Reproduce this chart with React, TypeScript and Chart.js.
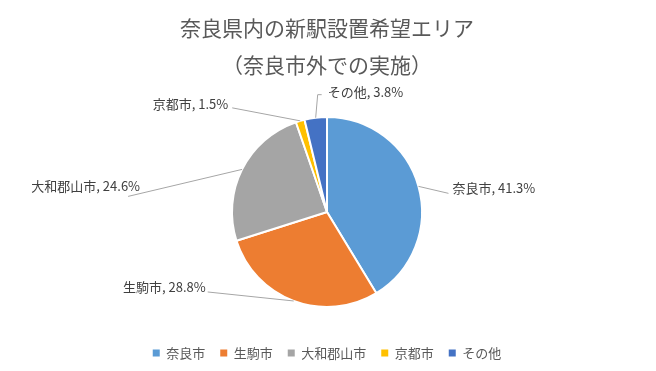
import React, { useEffect, useRef } from "react";
import { Chart, registerables } from "chart.js";

Chart.register(...registerables);

const categories = ["奈良市", "生駒市", "大和郡山市", "京都市", "その他"];
const shares = [41.3, 28.8, 24.6, 1.5, 3.8];
const colors = ["#5B9BD5", "#ED7D31", "#A5A5A5", "#FFC000", "#4472C4"];
const titleLines = ["奈良県内の新駅設置希望エリア", "（奈良市外での実施）"];

// leader line / label placement relative to each slice's outer mid-point
const labelLayout = [
  { line: [[30, 7]], text: [34, 2], align: "left" },
  { line: [[-86, -9]], text: [-88, -14], align: "right" },
  { line: [[-114, 27]], text: [-102, 17], align: "right" },
  { line: [[-68, -13]], text: [-72, -17], align: "right" },
  { line: [[2, -23], [6, -23]], text: [12, -26], align: "left" },
];

const FONT = '"Noto Sans CJK JP", "Noto Sans", sans-serif';

const labelPlugin = {
  id: "pieLabels",
  afterDatasetsDraw(chart: any) {
    const ctx = chart.ctx;
    const meta = chart.getDatasetMeta(0);
    ctx.save();
    meta.data.forEach((arc: any, i: number) => {
      const { x, y, startAngle, endAngle, outerRadius } = arc.getProps(
        ["x", "y", "startAngle", "endAngle", "outerRadius"],
        true
      );
      const mid = (startAngle + endAngle) / 2;
      const ax = x + Math.cos(mid) * outerRadius;
      const ay = y + Math.sin(mid) * outerRadius;
      const lay = labelLayout[i];
      ctx.strokeStyle = "#A6A6A6";
      ctx.lineWidth = 1;
      ctx.beginPath();
      ctx.moveTo(ax, ay);
      lay.line.forEach((p: number[]) => ctx.lineTo(ax + p[0], ay + p[1]));
      ctx.stroke();
      ctx.fillStyle = "#404040";
      ctx.font = `13px ${FONT}`;
      ctx.textAlign = lay.align;
      ctx.textBaseline = "middle";
      ctx.fillText(
        `${categories[i]}, ${shares[i].toFixed(1)}%`,
        ax + lay.text[0],
        ay + lay.text[1]
      );
    });
    ctx.restore();
  },
};

export default function App() {
  const ref = useRef<HTMLCanvasElement>(null);
  useEffect(() => {
    document.body.style.margin = "0";
    const baseGen = (Chart as any).overrides.doughnut.plugins.legend.labels
      .generateLabels;
    const chart = new Chart(ref.current!, {
      type: "pie",
      data: {
        labels: categories,
        datasets: [
          {
            data: shares,
            backgroundColor: colors,
            borderColor: "#ffffff",
            borderWidth: 2,
            radius: 95,
          } as any,
        ],
      },
      options: {
        responsive: false,
        animation: false,
        layout: { padding: { top: 0, bottom: 1.5, left: 0, right: 2 } },
        plugins: {
          tooltip: { enabled: false },
          title: {
            display: true,
            text: titleLines,
            color: "#595959",
            font: { family: FONT, size: 21, weight: "normal", lineHeight: "37px" } as any,
            padding: { top: 9.5, bottom: 9 },
          },
          legend: {
            position: "bottom",
            labels: {
              boxWidth: 7,
              boxHeight: 7,
              padding: 15,
              color: "#595959",
              font: { family: FONT, size: 13 },
              generateLabels: (c: any) =>
                baseGen(c).map((l: any) => ({ ...l, lineWidth: 0, strokeStyle: "transparent" })),
            },
          },
        },
      },
      plugins: [labelPlugin],
    });
    return () => chart.destroy();
  }, []);
  return <canvas ref={ref} width={656} height={371} />;
}
